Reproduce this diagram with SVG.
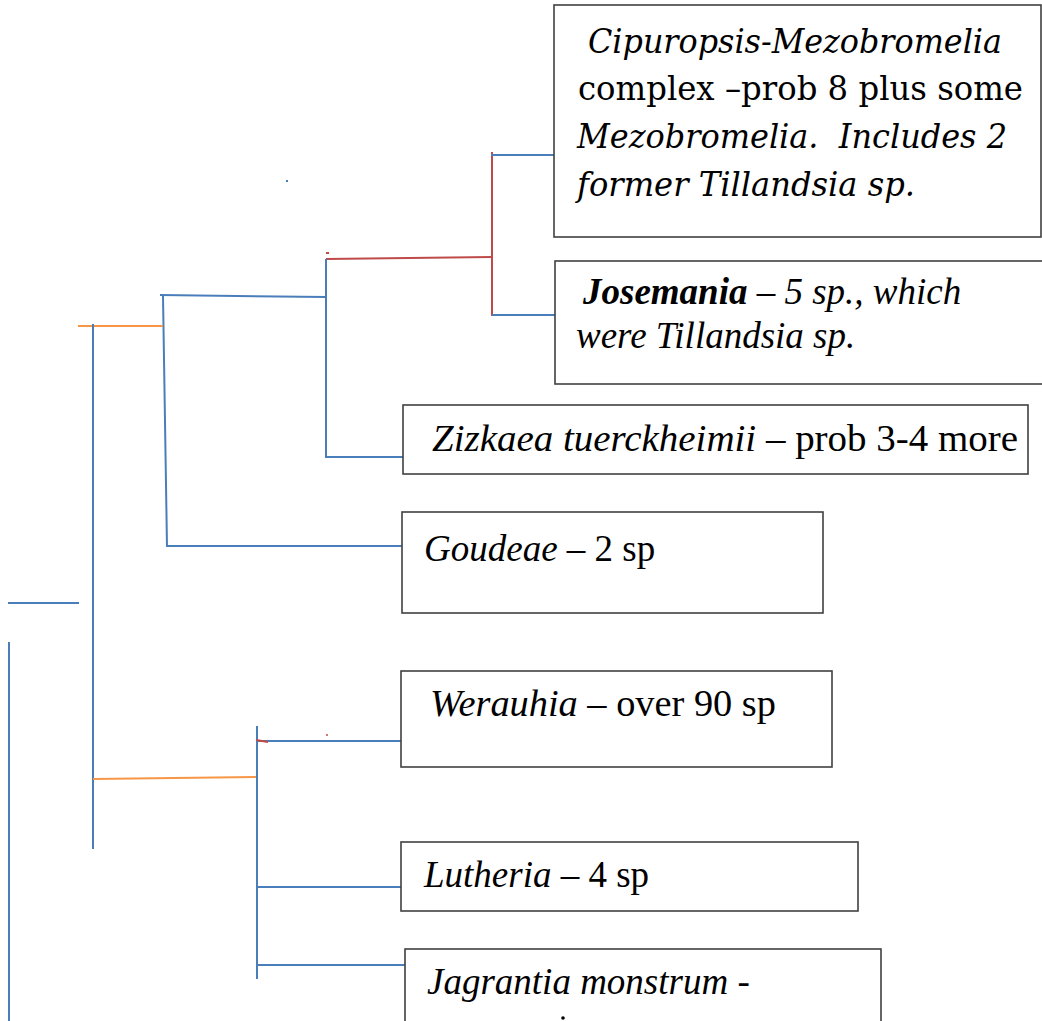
<svg xmlns="http://www.w3.org/2000/svg" width="1042" height="1021" viewBox="0 0 1042 1021">
<style>
.box{fill:#fff;stroke:#404040;stroke-width:1.6}
.b{stroke:#4A7EBB;stroke-width:2;fill:none}
.r{stroke:#BE4B48;stroke-width:2;fill:none}
.o{stroke:#F79646;stroke-width:2;fill:none}
.t{font-family:"Liberation Serif","Times New Roman",serif;font-size:37px;fill:#000}
.c{font-family:"DejaVu Serif","Liberation Serif",serif;font-size:33px;fill:#000;white-space:pre}
.i{font-style:italic}
</style>
<rect width="1042" height="1021" fill="#fff"/>
<g id="connectors">
<line class="r" x1="492" y1="152" x2="492" y2="316"/>
<line class="b" x1="491" y1="155" x2="554" y2="155"/>
<line class="b" x1="492" y1="315" x2="555" y2="315"/>
<line class="r" x1="326" y1="259" x2="492" y2="257"/>
<line class="r" x1="326" y1="253" x2="329" y2="253" stroke-width="1"/>
<line class="b" x1="326" y1="259" x2="326" y2="458"/>
<line class="b" x1="326" y1="457" x2="403" y2="457"/>
<line class="b" x1="160" y1="295" x2="326" y2="297"/>
<line class="b" x1="163" y1="296" x2="167" y2="547"/>
<line class="b" x1="167" y1="546" x2="402" y2="546"/>
<line class="o" x1="78" y1="326" x2="163" y2="326"/>
<line class="b" x1="93" y1="324" x2="93" y2="849"/>
<line class="b" x1="8" y1="603" x2="79" y2="603"/>
<line class="b" x1="9" y1="642" x2="9" y2="1021"/>
<line class="o" x1="93" y1="779" x2="257" y2="777"/>
<line class="b" x1="257" y1="726" x2="257" y2="979"/>
<line class="b" x1="257" y1="741" x2="403" y2="741"/>
<line class="r" x1="256" y1="740" x2="268" y2="742"/>
<circle cx="327" cy="735" r="1" fill="#BE4B48"/>
<line class="b" x1="257" y1="887" x2="401" y2="887"/>
<line class="b" x1="257" y1="965" x2="405" y2="965"/>
<rect x="286" y="180" width="2" height="2" fill="#4A7EBB"/>
</g>
<g id="cipuropsis">
<rect class="box" x="554" y="5" width="487" height="232"/>
<text class="c i" x="588" y="53" textLength="414" lengthAdjust="spacingAndGlyphs">Cipuropsis-Mezobromelia</text>
<text class="c" x="578" y="100" textLength="445" lengthAdjust="spacingAndGlyphs">complex –prob 8 plus some</text>
<text class="c i" x="577" y="148" textLength="430" lengthAdjust="spacingAndGlyphs">Mezobromelia.  Includes 2</text>
<text class="c i" x="577" y="196" textLength="338" lengthAdjust="spacingAndGlyphs">former Tillandsia sp.</text>
</g>
<g id="josemania">
<rect class="box" x="555" y="261" width="495" height="123"/>
<text class="t i" x="583" y="304"><tspan font-weight="bold">Josemania</tspan> – 5 sp., which</text>
<text class="t i" x="576" y="348" font-size="36">were Tillandsia sp.</text>
</g>
<g id="zizkaea">
<rect class="box" x="403" y="405" width="625" height="69"/>
<text class="t" x="432" y="451" textLength="586" lengthAdjust="spacingAndGlyphs"><tspan class="i">Zizkaea tuerckheimii</tspan> – prob 3-4 more</text>
</g>
<g id="goudeae">
<rect class="box" x="402" y="512" width="421" height="101"/>
<text class="t" x="424" y="561"><tspan class="i">Goudeae</tspan> – 2 sp</text>
</g>
<g id="werauhia">
<rect class="box" x="401" y="671" width="431" height="96"/>
<text class="t" x="430" y="716" textLength="346" lengthAdjust="spacingAndGlyphs"><tspan class="i">Werauhia</tspan> – over 90 sp</text>
</g>
<g id="lutheria">
<rect class="box" x="401" y="842" width="457" height="69"/>
<text class="t" x="424" y="887"><tspan class="i">Lutheria</tspan> – 4 sp</text>
</g>
<g id="jagrantia">
<rect class="box" x="405" y="949" width="476" height="80"/>
<text class="t i" x="427" y="994">Jagrantia monstrum -</text>
<circle cx="563" cy="1018" r="1.8" fill="#000"/>
</g>
</svg>
